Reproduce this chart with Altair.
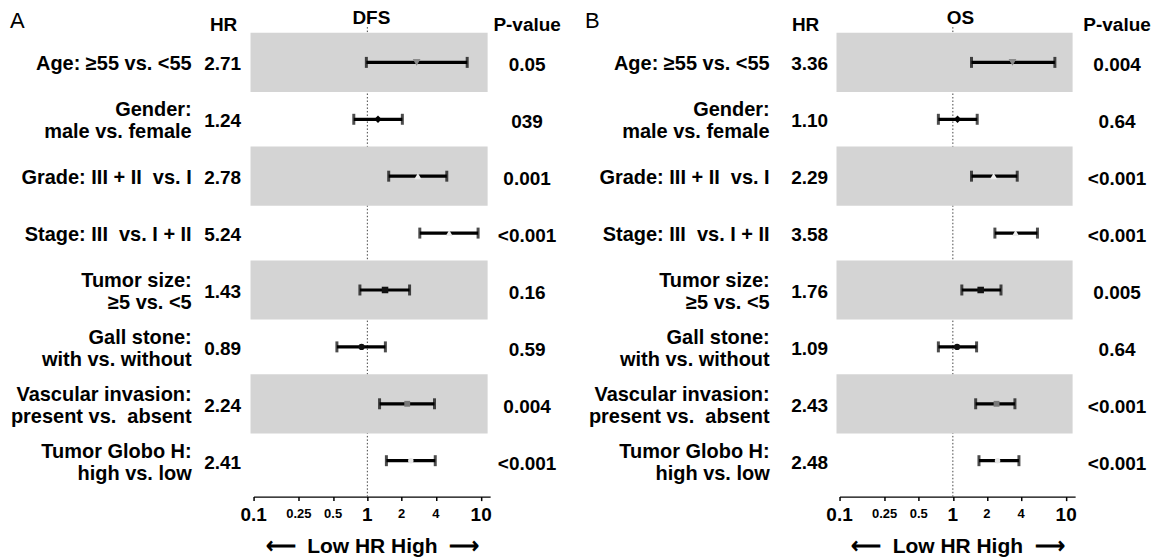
import altair as alt
import pandas as pd

# ---------------- data ----------------
NB = "\u00a0"
factors = [
    "Age: ≥55 vs. <55",
    "Gender:\nmale vs. female",
    "Grade: III + II " + NB + "vs. I",
    "Stage: III " + NB + "vs. I + II",
    "Tumor size:\n≥5 vs. <5",
    "Gall stone:\nwith vs. without",
    "Vascular invasion:\npresent vs. " + NB + "absent",
    "Tumor Globo H:\nhigh vs. low",
]
rows = [0, 1, 2, 3, 4, 5, 6, 7]

dfs_hr = [2.71, 1.24, 2.78, 5.24, 1.43, 0.89, 2.24, 2.41]
dfs_lo = [0.98, 0.76, 1.54, 2.89, 0.86, 0.54, 1.28, 1.47]
dfs_hi = [7.54, 2.03, 4.99, 9.40, 2.35, 1.44, 3.89, 3.95]
dfs_hr_txt = ["2.71", "1.24", "2.78", "5.24", "1.43", "0.89", "2.24", "2.41"]
dfs_p = ["0.05", "039", "0.001", "<0.001", "0.16", "0.59", "0.004", "<0.001"]

os_hr = [3.36, 1.10, 2.29, 3.58, 1.76, 1.09, 2.43, 2.48]
os_lo = [1.46, 0.745, 1.46, 2.35, 1.20, 0.745, 1.59, 1.70]
os_hi = [7.95, 1.64, 3.70, 5.58, 2.66, 1.62, 3.53, 3.83]
os_hr_txt = ["3.36", "1.10", "2.29", "3.58", "1.76", "1.09", "2.43", "2.48"]
os_p = ["0.004", "0.64", "<0.001", "<0.001", "0.005", "0.64", "<0.001", "<0.001"]

tick_values = [0.1, 0.25, 0.5, 1, 2, 4, 10]
tick_labels = ["0.1", "0.25", "0.5", "1", "2", "4", "10"]
tick_major = [True, False, False, True, False, False, True]

# ---------------- styles ----------------
FONT = "Liberation Sans"
mk_keys = ["m0", "m1", "m2", "m3", "m4", "m5", "m6", "m7"]
mk_shapes = ["triangle-down", "diamond", "triangle-up", "triangle-up",
             "square", "circle", "square", "circle"]
mk_fills = ["#8a8a8a", "#000000", "#eeeeee", "#eeeeee",
            "#111111", "#111111", "#777777", "#e6e6e6"]
mk_sizes = [60, 30, 60, 70, 18, 12, 70, 45]

H = 489
yS = alt.Scale(domain=[0, 7], range=[54, 453], nice=False, zero=False)

axis_x = alt.Axis(
    values=tick_values, orient="bottom", labels=False,
    title="⟵" + NB * 2 + "Low HR High" + NB * 2 + "⟶",
    titleFont=FONT, titleFontSize=21, titleFontWeight="bold",
    titleColor="black", titlePadding=34,
    domainColor="black", domainWidth=1.5,
    tickColor="black", tickWidth=1.5, tickSize=4, grid=False,
)


def panel(hr, lo, hi, hr_txt, pv, width, xrange, letter, title, pos):
    df = pd.DataFrame({"row": rows, "label": factors, "hr": hr, "lo": lo,
                       "hi": hi, "hr_txt": hr_txt, "p": pv, "mk": mk_keys})
    tdf = pd.DataFrame({"v": tick_values, "lab": tick_labels, "major": tick_major})
    xS = alt.Scale(type="log", domain=[0.1, 12], range=xrange, nice=False)
    base = alt.Chart(df)
    Y = alt.Y("row:Q", scale=yS, axis=None)

    def X(f):
        return alt.X(f, scale=xS, axis=axis_x)

    ref = base.transform_filter("datum.row == 0").transform_calculate(
        one="1", yt="-0.62", yb="7.63"
    ).mark_rule(color="#444444", strokeWidth=1, strokeDash=[1.5, 2]).encode(
        x=X("one:Q"), y=alt.Y("yt:Q", scale=yS, axis=None), y2="yb:Q")

    bands = base.transform_filter("datum.row % 2 == 0").transform_calculate(
        y0="datum.row - 0.52", y1="datum.row + 0.52", bx0="0.094", bx1="11.4"
    ).mark_rect(color="#d4d4d4").encode(
        x=X("bx0:Q"), x2="bx1:Q",
        y=alt.Y("y0:Q", scale=yS, axis=None), y2="y1:Q")

    bars = base.mark_rule(color="black", strokeWidth=3.2).encode(
        x=X("lo:Q"), x2="hi:Q", y=Y)

    caps = base.transform_fold(["lo", "hi"], as_=["end", "v"]).mark_tick(
        orient="vertical", color="black", thickness=3, size=11
    ).encode(x=X("v:Q"), y=Y)

    pts = base.mark_point(filled=True, opacity=1, strokeWidth=0).encode(
        x=X("hr:Q"), y=Y,
        shape=alt.Shape("mk:N", scale=alt.Scale(domain=mk_keys, range=mk_shapes), legend=None),
        fill=alt.Fill("mk:N", scale=alt.Scale(domain=mk_keys, range=mk_fills), legend=None),
        size=alt.Size("mk:O", scale=alt.Scale(domain=mk_keys, range=mk_sizes), legend=None),
    )

    tick_big = alt.Chart(tdf).transform_filter("datum.major").mark_text(
        font=FONT, fontWeight="bold", color="black", baseline="middle",
        align="center", fontSize=19
    ).encode(x=X("v:Q"), y=alt.value(H + 18), text="lab:N")
    tick_small = alt.Chart(tdf).transform_filter("!datum.major").mark_text(
        font=FONT, fontWeight="bold", color="black", baseline="middle",
        align="center", fontSize=13
    ).encode(x=X("v:Q"), y=alt.value(H + 17), text="lab:N")

    txt = dict(font=FONT, fontWeight="bold", color="black", baseline="middle")
    labels1 = base.transform_filter("indexof(datum.label, '\\n') < 0").mark_text(
        align="right", dy=2, fontSize=20, **txt).encode(
        x=alt.value(pos["label"]), y=Y, text="label:N")
    labels2 = base.transform_filter("indexof(datum.label, '\\n') >= 0").mark_text(
        align="right", lineBreak="\n", lineHeight=22, dy=-9, fontSize=20, **txt).encode(
        x=alt.value(pos["label"]), y=Y, text="label:N")
    hrs = base.mark_text(align="center", dy=2, fontSize=19, **txt).encode(
        x=alt.value(pos["hr"]), y=Y, text="hr_txt:N")
    ps = base.mark_text(align="center", dy=3, fontSize=19, **txt).encode(
        x=alt.value(pos["p"]), y=Y, text="p:N")

    def head(t, x, y, size=19, weight="bold", align="center"):
        return alt.Chart(pd.DataFrame({"t": [t]})).mark_text(
            font=FONT, fontWeight=weight, fontSize=size, color="black",
            align=align, baseline="middle").encode(
            x=alt.value(x), y=alt.value(y), text="t:N")

    heads = [head("HR", pos["hrh"], 17), head("P-value", pos["p"], 17),
             head(title, pos["title"], 10),
             head(letter, pos["letter"], 13, size=22, weight="normal", align="left")]

    return alt.layer(ref, bands, bars, caps, pts, tick_big, tick_small,
                     labels1, labels2, hrs, ps, *heads).properties(width=width, height=H)


pA = panel(dfs_hr, dfs_lo, dfs_hi, dfs_hr_txt, dfs_p, 575, [246, 483], "A", "DFS",
           {"label": 184, "hr": 215, "hrh": 216, "p": 520, "title": 364, "letter": 2})
pB = panel(os_hr, os_lo, os_hi, os_hr_txt, os_p, 570, [258, 494], "B", "OS",
           {"label": 188, "hr": 228, "hrh": 224, "p": 536, "title": 379, "letter": 3})

chart = alt.hconcat(pA, pB, spacing=0, bounds="flush").properties(
    padding=0, background="white",
).configure_view(stroke=None)

chart.save("out.html", embed_options={"renderer": "svg", "actions": False})
